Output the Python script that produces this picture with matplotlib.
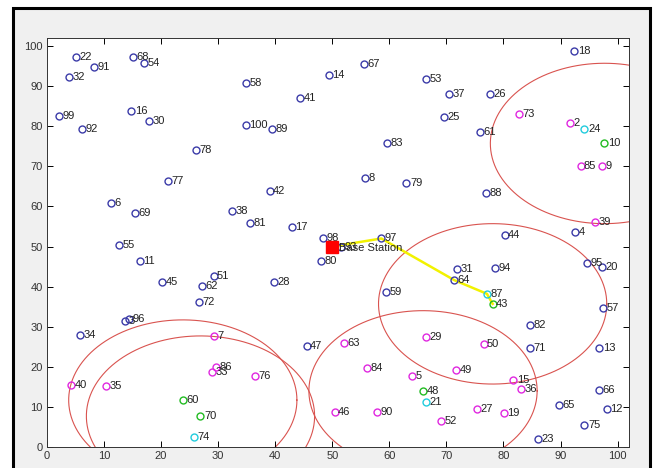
import numpy as np
import matplotlib
matplotlib.use("Agg")
import matplotlib.pyplot as plt
from matplotlib.patches import Rectangle

plt.rcParams['font.family'] = ['Liberation Sans', 'DejaVu Sans']

# Node data: id, x, y, colour group (b = normal, m = member, c = relay, g = cluster head)
node_ids = [2, 3, 4, 5, 6, 7, 8, 9, 10, 11, 12, 13, 14, 15, 16, 17, 18, 19, 20,
            21, 22, 23, 24, 25, 26, 27, 28, 29, 30, 31, 32, 33, 34, 35, 36, 37, 38, 39, 40,
            41, 42, 43, 44, 45, 46, 47, 48, 49, 50, 51, 52, 53, 54, 55, 57, 58, 59, 60,
            61, 62, 63, 64, 65, 66, 67, 68, 69, 70, 71, 72, 73, 74, 75, 76, 77, 78, 79, 80,
            81, 82, 83, 84, 85, 86, 87, 88, 89, 90, 91, 92, 93, 94, 95, 96, 97, 98, 99, 100]
node_x = [91.7, 13.7, 92.6, 64.0, 11.2, 29.3, 55.8, 97.2, 97.7, 16.3, 98.1, 96.8, 49.4, 81.7, 14.8, 42.9, 92.4, 80.1, 97.2,
          66.4, 5.1, 86.0, 94.2, 69.5, 77.6, 75.3, 39.8, 66.5, 17.9, 71.9, 3.9, 29.0, 5.8, 10.3, 83.1, 70.4, 32.5, 96.1, 4.2,
          44.4, 39.0, 78.1, 80.2, 20.2, 50.4, 45.5, 65.9, 71.7, 76.5, 29.2, 69.1, 66.5, 17.0, 12.7, 97.5, 34.9, 59.4, 23.8,
          75.9, 27.1, 52.1, 71.4, 89.8, 96.8, 55.6, 15.0, 15.4, 26.9, 84.7, 26.6, 82.7, 25.7, 94.2, 36.5, 21.2, 26.1, 63.0, 48.1,
          35.6, 84.6, 59.6, 56.0, 93.5, 29.7, 77.1, 77.0, 39.4, 57.9, 8.2, 6.1, 51.5, 78.6, 94.7, 14.3, 58.6, 48.3, 2.1, 34.8]
node_y = [80.9, 31.4, 53.5, 17.6, 60.8, 27.8, 67.0, 70.2, 75.7, 46.5, 9.5, 24.7, 92.8, 16.7, 83.8, 54.9, 98.8, 8.4, 45.0,
          11.3, 97.3, 1.9, 79.4, 82.3, 88.0, 9.5, 41.1, 27.4, 81.3, 44.3, 92.2, 18.8, 28.0, 15.2, 14.4, 88.0, 58.8, 56.1, 15.5,
          87.1, 63.9, 35.7, 52.8, 41.1, 8.7, 25.3, 14.0, 19.3, 25.7, 42.6, 6.4, 91.7, 95.8, 50.4, 34.7, 90.8, 38.7, 11.7,
          78.6, 40.2, 25.9, 41.6, 10.4, 14.1, 95.4, 97.3, 58.3, 7.7, 24.7, 36.2, 83.1, 2.6, 5.4, 17.6, 66.3, 74.1, 65.9, 46.3,
          55.8, 30.4, 75.9, 19.8, 70.2, 20.0, 38.2, 63.4, 79.4, 8.7, 94.7, 79.4, 49.8, 44.6, 45.8, 31.8, 52.0, 52.0, 82.6, 80.2]
node_group = ['m', 'b', 'b', 'm', 'b', 'm', 'b', 'm', 'g', 'b', 'b', 'b', 'b', 'm', 'b', 'b', 'b', 'm', 'b',
              'c', 'b', 'b', 'c', 'b', 'b', 'm', 'b', 'm', 'b', 'b', 'b', 'm', 'b', 'm', 'm', 'b', 'b', 'm', 'm',
              'b', 'b', 'g', 'b', 'b', 'm', 'b', 'g', 'm', 'm', 'b', 'm', 'b', 'b', 'b', 'b', 'b', 'b', 'g',
              'b', 'b', 'm', 'b', 'b', 'b', 'b', 'b', 'b', 'g', 'b', 'b', 'm', 'c', 'b', 'm', 'b', 'b', 'b', 'b',
              'b', 'b', 'b', 'm', 'm', 'm', 'c', 'b', 'b', 'm', 'b', 'b', 'b', 'b', 'b', 'b', 'b', 'b', 'b', 'b']

base_station = (50, 50)
cluster_heads = [10, 43, 48, 60, 70]
cluster_radius = 20
route = [97, 64, 87, 43]   # path from base station

colors = {'b': '#3b3ba8', 'm': '#e028e0', 'c': '#22ccdd', 'g': '#22bb22'}

fig = plt.figure(figsize=(6.54, 4.68), dpi=100)
fig.patch.set_facecolor('white')
# MATLAB-like grey figure window with black frame
frame = Rectangle((13 / 654, -0.01), 637 / 654, (468 - 8) / 468 + 0.01,
                  transform=fig.transFigure, facecolor='#f0f0f0',
                  edgecolor='black', linewidth=2.2, zorder=-10)
fig.add_artist(frame)

ax = fig.add_axes([47 / 654, 21 / 468, 582 / 654, 409 / 468])
ax.set_facecolor('white')

pos = {n: (x, y) for n, x, y in zip(node_ids, node_x, node_y)}

# coverage circles around cluster heads
t = np.linspace(0, 2 * np.pi, 400)
for ch in cluster_heads:
    cx, cy = pos[ch]
    ax.plot(cx + cluster_radius * np.cos(t), cy + cluster_radius * np.sin(t),
            color='#d9534f', lw=0.8, zorder=1)

# route to base station
rx = [base_station[0]] + [pos[n][0] for n in route]
ry = [base_station[1]] + [pos[n][1] for n in route]
ax.plot(rx, ry, color='#f2f200', lw=1.8, zorder=2)

for n, x, y, g in zip(node_ids, node_x, node_y, node_group):
    ax.plot(x, y, 'o', mfc='none', mec=colors[g], ms=5, mew=1.0, zorder=3)
    ax.annotate(str(n), (x, y), xytext=(2.5, 0), textcoords='offset points',
                va='center', ha='left', fontsize=8, color='#222222', zorder=4)

ax.plot(base_station[0], base_station[1], 's', color='red', ms=8, zorder=5)
ax.annotate('Base Station', base_station, xytext=(5, -1), textcoords='offset points',
            va='center', ha='left', fontsize=8, color='#222222', zorder=6)

ax.set_xlim(0, 102)
ax.set_ylim(0, 102)
ax.set_xticks(range(0, 101, 10))
ax.set_yticks(range(0, 101, 10))
ax.tick_params(direction='in', length=4, width=0.7, top=True, right=True,
               labelsize=8, labelcolor='#333333', pad=3)
for s in ax.spines.values():
    s.set_linewidth(0.7)
    s.set_color('#333333')

fig.savefig('out.png', dpi=100)
